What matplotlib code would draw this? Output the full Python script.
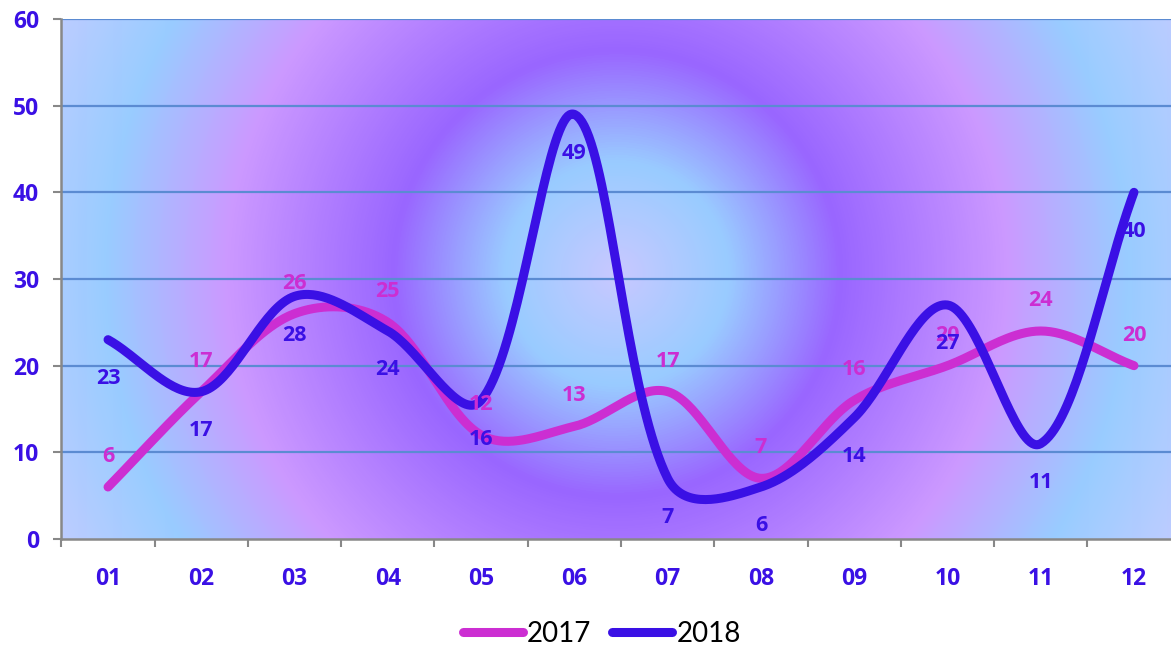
import numpy as np
import matplotlib
matplotlib.use("Agg")
import matplotlib.pyplot as plt
from matplotlib.colors import LinearSegmentedColormap

# data
months = ['01', '02', '03', '04', '05', '06', '07', '08', '09', '10', '11', '12']
sales_2017 = [6, 17, 26, 25, 12, 13, 17, 7, 16, 20, 24, 20]
sales_2018 = [23, 17, 28, 24, 16, 49, 7, 6, 14, 27, 11, 40]

c2017 = '#CC2ED2'
c2018 = '#3A10E5'
lbl = '#3A10E5'

plt.rcParams['font.family'] = ['Open Sans', 'DejaVu Sans']


def smooth(xs, ys, n=40, ysc=0.6 * 520 / 60, xsc=93.3):
    # excel-like smoothed line: bezier with tangents weighted by segment lengths
    P = np.column_stack([xs, ys]).astype(float)
    Q = P * [xsc, ysc]
    N = len(P)
    out = []
    f = 1 / 6
    for i in range(N - 1):
        a = max(i - 1, 0)
        b = min(i + 2, N - 1)
        d01 = np.hypot(*(Q[i] - Q[a]))
        d12 = np.hypot(*(Q[i + 1] - Q[i]))
        d23 = np.hypot(*(Q[b] - Q[i + 1]))
        f1 = f * 2 * d12 / (d01 + d12)
        f2 = f * 2 * d12 / (d12 + d23)
        p0, p1 = P[i], P[i + 1]
        c1 = p0 + f1 * (P[i + 1] - P[a])
        c2 = p1 - f2 * (P[b] - P[i])
        t = np.linspace(0, 1, n)[:, None]
        seg = (1 - t) ** 3 * p0 + 3 * (1 - t) ** 2 * t * c1 + 3 * (1 - t) * t ** 2 * c2 + t ** 3 * p1
        out.append(seg if i == 0 else seg[1:])
    out = np.vstack(out)
    return out[:, 0], out[:, 1]


fig = plt.figure(figsize=(11.71, 6.46), dpi=100)
ax = fig.add_axes([61.4 / 1171, 1 - 539 / 646, 1119.2 / 1171, 520 / 646])

x = np.arange(1, len(months) + 1)

# radial gradient background, computed in pixels
W, H = 1119, 520
px, py = np.meshgrid(np.arange(W), np.arange(H))
cx, cy = 555, 265
r = np.sqrt((px - cx) ** 2 + (py - cy) ** 2)
stops = [(0, '#C8C8FF'), (110, '#99CCFF'), (222, '#9966FF'), (390, '#CC99FF'),
         (510, '#99CCFF'), (660, '#CCCCFF')]
cmap = LinearSegmentedColormap.from_list('bg', [(s / 660, c) for s, c in stops])
ax.imshow(r / 660, cmap=cmap, vmin=0, vmax=1, extent=[0.5, 12.5, 60, 0],
          aspect='auto', zorder=0, interpolation='bilinear')
ax.set_ylim(0, 60)
ax.set_xlim(0.5, 12.5)

for v in range(10, 61, 10):
    ax.axhline(v, color='#5B8BD2', lw=1.6, zorder=1)

sx, sy = smooth(x, sales_2017)
ax.plot(sx, sy, color=c2017, lw=6.5, solid_capstyle='round', zorder=3, label='2017')
sx, sy = smooth(x, sales_2018)
ax.plot(sx, sy, color=c2018, lw=6.5, solid_capstyle='round', zorder=4, label='2018')

for xi, v in zip(x, sales_2017):
    ax.annotate(str(v), (xi, v), xytext=(0, 22), textcoords='offset points',
                ha='center', va='center', color=c2017, fontsize=15.5,
                fontweight='bold', zorder=5)
for xi, v in zip(x, sales_2018):
    ax.annotate(str(v), (xi, v), xytext=(0, -28), textcoords='offset points',
                ha='center', va='center', color=c2018, fontsize=15.5,
                fontweight='bold', zorder=5)

ax.set_yticks(range(0, 61, 10))
ax.set_xticks(x)
ax.set_xticklabels(months)
ax.set_xticks(np.arange(0.5, 12.6, 1), minor=True)
ax.tick_params(axis='x', which='major', length=0, pad=20, labelsize=16.5, labelcolor=lbl)
ax.tick_params(axis='x', which='minor', length=6, width=1.5, color='#888888', direction='out')
ax.tick_params(axis='y', length=6, width=1.5, color='#888888', pad=10, labelsize=16.5, labelcolor=lbl)
for t in ax.get_xticklabels() + ax.get_yticklabels():
    t.set_fontweight('bold')

for s in ['top', 'right']:
    ax.spines[s].set_visible(False)
for s in ['left', 'bottom']:
    ax.spines[s].set_color('#888888')
    ax.spines[s].set_linewidth(1.8)
    ax.spines[s].set_zorder(6)

fig.legend(loc='center', bbox_to_anchor=(602 / 1171, 1 - 634 / 646), ncol=2,
           frameon=False, prop={'family': 'Lato', 'size': 20}, handlelength=2.15,
           handletextpad=0.15, columnspacing=0.75)

fig.savefig('out.png', dpi=100)
